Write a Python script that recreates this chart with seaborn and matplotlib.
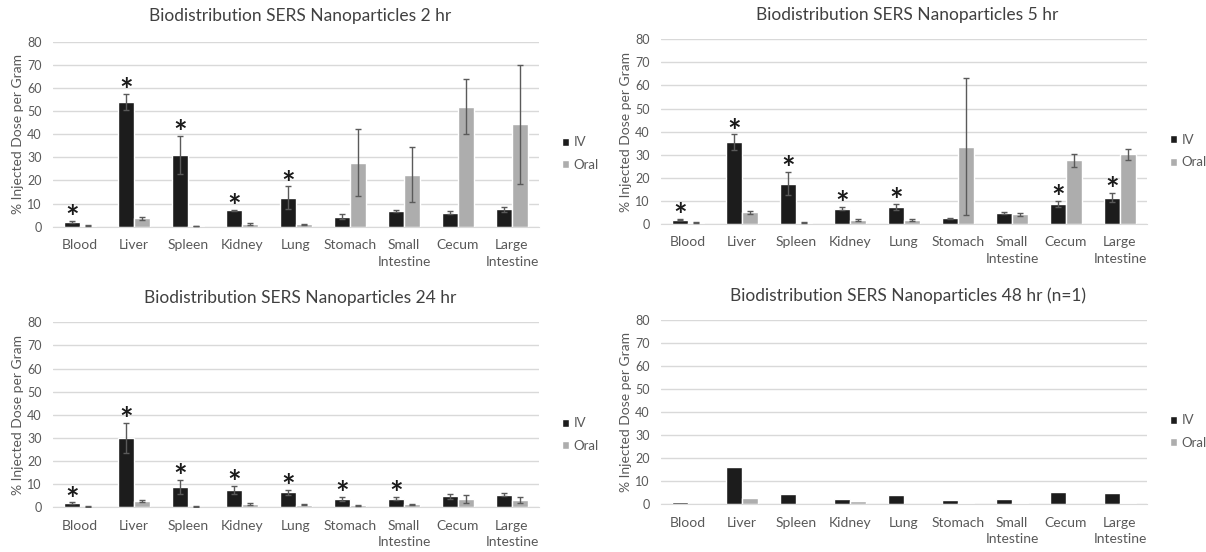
import numpy as np
import pandas as pd
import seaborn as sns
import matplotlib.pyplot as plt
from matplotlib.patches import Patch

organs = ["Blood", "Liver", "Spleen", "Kidney", "Lung", "Stomach",
          "Small\nIntestine", "Cecum", "Large\nIntestine"]
routes = ["IV", "Oral"]

# 2 hr
iv_2 = [1.9, 54.0, 31.0, 7.1, 12.5, 4.3, 6.8, 6.1, 7.5]
iv_2_err = [0.4, 3.4, 8.2, 0.3, 4.9, 1.0, 0.5, 0.6, 1.0]
oral_2 = [0.4, 3.7, 0.3, 1.2, 1.0, 27.7, 22.5, 51.9, 44.2]
oral_2_err = [0.2, 0.7, 0.1, 0.3, 0.2, 14.4, 12.0, 12.0, 25.7]
star_2 = [1, 1, 1, 1, 1, 0, 0, 0, 0]

# 5 hr
iv_5 = [1.9, 35.5, 17.5, 6.6, 7.5, 2.5, 4.9, 8.5, 11.4]
iv_5_err = [0.3, 3.3, 5.0, 0.6, 1.3, 0.3, 0.4, 1.3, 2.0]
oral_5 = [0.6, 5.0, 0.6, 1.7, 1.6, 33.5, 4.2, 27.6, 30.2]
oral_5_err = [0.2, 0.7, 0.2, 0.3, 0.5, 29.8, 0.7, 2.8, 2.4]
star_5 = [1, 1, 1, 1, 1, 0, 0, 1, 1]

# 24 hr
iv_24 = [1.7, 30.0, 8.9, 7.5, 6.5, 3.5, 3.7, 4.8, 5.5]
iv_24_err = [0.4, 6.5, 3.0, 1.7, 1.0, 0.8, 0.6, 1.0, 0.8]
oral_24 = [0.3, 2.6, 0.3, 1.4, 1.2, 0.8, 1.3, 3.6, 3.0]
oral_24_err = [0.1, 0.4, 0.1, 0.3, 0.2, 0.2, 0.3, 1.7, 1.3]
star_24 = [1, 1, 1, 1, 1, 1, 1, 0, 0]

# 48 hr (n=1, no error bars)
iv_48 = [1.2, 16.2, 4.6, 2.2, 4.0, 2.0, 2.5, 5.2, 4.9]
oral_48 = [0.2, 2.6, 0.2, 1.5, 0.2, 0.6, 0.5, 0.1, 0.6]
star_48 = [0] * 9

W, H = 1206, 552
colors = {"IV": "#1c1c1c", "Oral": "#adadad"}
txt = "#595959"

sns.set_style("whitegrid")
plt.rcParams["font.family"] = ["Lato", "DejaVu Sans"]

fig = plt.figure(figsize=(W / 100, H / 100), dpi=100)


def px_rect(x0, x1, ytop, ybot):
    return [x0 / W, 1 - ybot / H, (x1 - x0) / W, (ybot - ytop) / H]


panels = [
    ("Biodistribution SERS Nanoparticles 2 hr", iv_2, iv_2_err, oral_2, oral_2_err, star_2,
     px_rect(53, 539, 41.7, 226.7), (300, 16.5), (555, 153.5)),
    ("Biodistribution SERS Nanoparticles 5 hr", iv_5, iv_5_err, oral_5, oral_5_err, star_5,
     px_rect(661, 1147, 39.3, 224), (907, 15), (1163, 151)),
    ("Biodistribution SERS Nanoparticles 24 hr", iv_24, iv_24_err, oral_24, oral_24_err, star_24,
     px_rect(53, 539, 322.3, 507.3), (300, 298), (555, 434.7)),
    ("Biodistribution SERS Nanoparticles 48 hr (n=1)", iv_48, None, oral_48, None, star_48,
     px_rect(661, 1147, 319.6, 504.3), (908, 296), (1163, 431.5)),
]

for title, iv, iv_err, oral, oral_err, stars, rect, tpos, lpos in panels:
    ax = fig.add_axes(rect)
    df = pd.DataFrame({
        "organ": organs * 2,
        "route": ["IV"] * len(organs) + ["Oral"] * len(organs),
        "value": iv + oral,
    })
    sns.barplot(data=df, x="organ", y="value", hue="route", hue_order=routes,
                palette=colors, width=0.58, errorbar=None, legend=False,
                saturation=1, ax=ax)

    errs = [iv_err, oral_err]
    vals = [iv, oral]
    bar_groups = list(ax.containers)
    for k, cont in enumerate(bar_groups):
        xs = [p.get_x() + p.get_width() / 2 for p in cont.patches]
        if errs[k] is not None:
            ax.errorbar(xs, vals[k], yerr=errs[k], fmt="none", ecolor="#5a5a5a",
                        elinewidth=1, capsize=2, capthick=1, zorder=3)
        if k == 0:
            # significance marks sit just above the IV error bar
            for x, v, e, s in zip(xs, iv, iv_err if iv_err else [0] * 9, stars):
                if s:
                    ax.text(x, v + e + 0.6, "*", ha="center", va="center",
                            fontsize=23, fontweight="bold", color="#1a1a1a")

    ax.set_ylim(0, 80)
    ax.set_yticks(np.arange(0, 81, 10))
    ax.set_xlim(-0.5, 8.5)
    ax.grid(axis="y", color="#d9d9d9", linewidth=1)
    ax.grid(axis="x", visible=False)
    ax.set_axisbelow(True)
    sns.despine(ax=ax, left=True)
    ax.spines["bottom"].set_color("#d9d9d9")
    ax.tick_params(axis="x", length=0, pad=9, labelsize=10, labelcolor=txt)
    ax.tick_params(axis="y", length=0, pad=8, labelsize=9, labelcolor=txt)
    for lab in ax.get_xticklabels():
        lab.set_linespacing(1.45)
    ax.set_xlabel("")
    ax.set_ylabel("% Injected Dose per Gram", fontsize=10, color=txt, labelpad=2)

    fig.text(tpos[0] / W, 1 - tpos[1] / H, title, ha="center", va="center",
             fontsize=12.5, color="#404040")

    handles = [Patch(facecolor=colors[r], label=r) for r in routes]
    ax.legend(handles=handles, loc="center left",
              bbox_to_anchor=(lpos[0] / W, 1 - lpos[1] / H),
              bbox_transform=fig.transFigure, frameon=False, fontsize=9.5,
              handlelength=0.55, handleheight=0.55, handletextpad=0.35,
              labelspacing=0.8, borderpad=0, labelcolor=txt)

fig.savefig("out.png", dpi=100)
